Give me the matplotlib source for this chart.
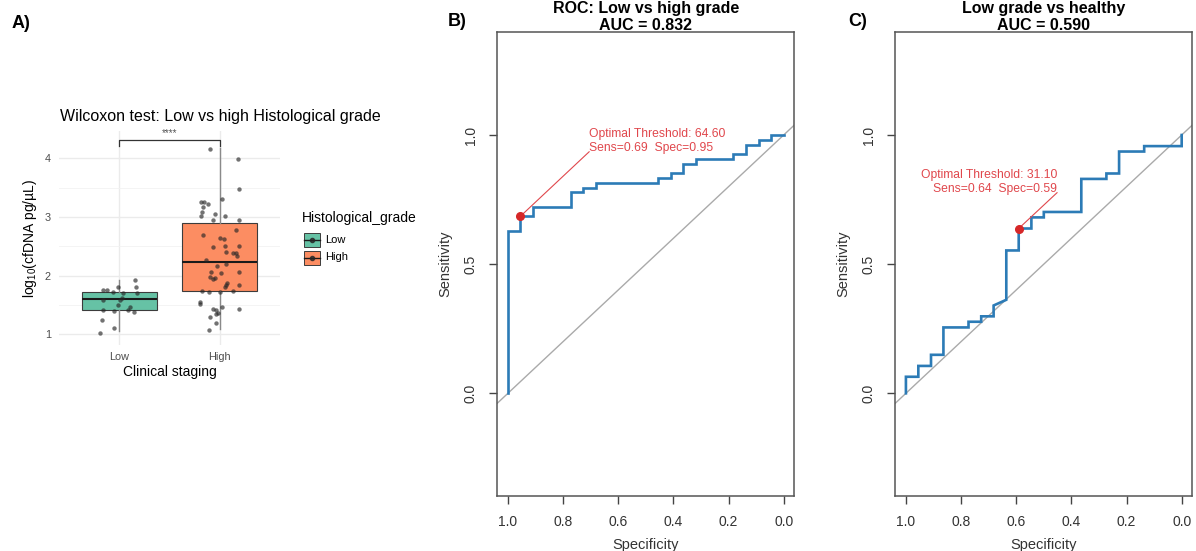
import matplotlib
matplotlib.use("Agg")
import matplotlib.pyplot as plt
from matplotlib.patches import Rectangle
from matplotlib.lines import Line2D

plt.rcParams["font.family"] = ["Liberation Sans", "DejaVu Sans"]
plt.rcParams["mathtext.default"] = "regular"

W, H = 1196, 551

# ---- panel A: cfDNA by histological grade ----
groups = ["Low", "High"]
box_colors = ["#66C2A5", "#FC8D62"]
box_q1 = [1.42, 1.745]
box_med = [1.60, 2.23]
box_q3 = [1.73, 2.905]
box_lo = [1.05, 1.085]
box_hi = [1.93, 4.17]

low_vals = [1.02, 1.24, 1.11, 1.42, 1.40, 1.41, 1.38, 1.47, 1.50, 1.59, 1.59, 1.62,
            1.73, 1.76, 1.76, 1.80, 1.70, 1.80, 1.71, 1.93]
low_jit = [-0.19, -0.177, -0.05, -0.16, -0.05, 0.087, 0.143, 0.10, -0.01, -0.167, 0.01, 0.027,
           -0.063, -0.16, -0.123, -0.01, 0.03, 0.167, 0.173, 0.153]
high_vals = [4.15, 3.99, 3.47, 3.26, 3.25, 3.22, 3.31, 3.17, 3.09, 3.02, 3.05, 3.02, 2.95, 2.95,
             2.70, 2.65, 2.62, 2.78, 2.49, 2.50, 2.50, 2.41, 2.38, 2.38, 2.34, 2.27, 2.20, 2.17,
             2.07, 2.07, 2.04, 1.98, 1.96, 1.94, 1.87, 1.84, 1.81, 1.85, 1.74, 1.73, 1.72, 1.74,
             1.56, 1.51, 1.47, 1.43, 1.43, 1.41, 1.36, 1.34, 1.30, 1.20, 1.07]
high_jit = [-0.093, 0.183, 0.19, -0.183, -0.16, -0.117, 0.017, -0.167, -0.173, -0.19, -0.043, 0.047,
            -0.067, 0.187, -0.17, 0.0, 0.043, 0.157, -0.07, 0.053, 0.19, 0.06, 0.133, 0.157, 0.173,
            -0.14, 0.06, -0.027, -0.09, 0.187, 0.01, -0.1, -0.05, -0.067, 0.073, 0.06, 0.047, 0.187,
            -0.177, -0.11, 0.0, 0.13, -0.193, -0.193, 0.017, -0.067, 0.187, -0.04, -0.017, -0.033,
            -0.1, -0.037, -0.107]
sig_label = "****"
sig_y = 4.31

# ---- panel B / C: ROC curves ----
roc_b_spec = [1.0, 1.0, 0.955, 0.955, 0.909, 0.909, 0.773, 0.773, 0.727, 0.727, 0.682, 0.682,
              0.455, 0.455, 0.409, 0.409, 0.364, 0.364, 0.318, 0.318, 0.182, 0.182, 0.136, 0.136,
              0.091, 0.091, 0.045, 0.045, 0.0]
roc_b_sens = [0.0, 0.630, 0.630, 0.685, 0.685, 0.722, 0.722, 0.778, 0.778, 0.796, 0.796, 0.815,
              0.815, 0.833, 0.833, 0.852, 0.852, 0.889, 0.889, 0.907, 0.907, 0.926, 0.926, 0.963,
              0.963, 0.981, 0.981, 1.0, 1.0]
best_b = (0.955, 0.685)
label_b = "Optimal Threshold: 64.60\nSens=0.69  Spec=0.95"

roc_c_spec = [1.0, 1.0, 0.955, 0.955, 0.909, 0.909, 0.864, 0.864, 0.773, 0.773, 0.727, 0.727,
              0.682, 0.682, 0.636, 0.636, 0.591, 0.591, 0.545, 0.545, 0.5, 0.5, 0.364, 0.364,
              0.273, 0.273, 0.227, 0.227, 0.136, 0.136, 0.0, 0.0]
roc_c_sens = [0.0, 0.064, 0.064, 0.106, 0.106, 0.149, 0.149, 0.255, 0.255, 0.277, 0.277, 0.298,
              0.298, 0.340, 0.362, 0.553, 0.553, 0.638, 0.638, 0.681, 0.681, 0.702, 0.702, 0.830,
              0.830, 0.851, 0.851, 0.936, 0.936, 0.957, 0.957, 1.0]
best_c = (0.591, 0.638)
label_c = "Optimal Threshold: 31.10\nSens=0.64  Spec=0.59"

spec_ticks = [1.0, 0.8, 0.6, 0.4, 0.2, 0.0]
sens_ticks = [0.0, 0.5, 1.0]

RED = "#E0474C"
BLUE = "#2C7BB6"


def fx(px):
    return px / W


def fy(py):
    return 1 - py / H


def roc_panel(fig, left_px, spec, sens, best, label, label_xy, ha, title, auc):
    ax = fig.add_axes([fx(left_px), fy(496), 297 / W, (496 - 32.3) / H])
    ax.axline((1.0, 0.0), (0.0, 1.0), color="#AAAAAA", lw=1.0, zorder=1)
    ax.plot(spec, sens, color=BLUE, lw=1.9, zorder=2, solid_joinstyle="miter")
    ax.plot([best[0], label_xy[0]], [best[1], label_xy[1]], color=RED, lw=0.8, zorder=3)
    ax.plot([best[0]], [best[1]], "o", color="#D62728", ms=5.5, zorder=4)
    ax.text(label_xy[0], label_xy[1] - 0.01, label, color=RED, fontsize=8.7, ha=ha,
            va="bottom", linespacing=1.25)
    ax.set_xlim(1.0385, -0.0385)
    ax.set_ylim(-0.3976, 1.3976)
    ax.set_xticks(spec_ticks)
    ax.set_xticklabels([f"{t:.1f}" for t in spec_ticks])
    ax.set_yticks(sens_ticks)
    ax.set_yticklabels([f"{t:.1f}" for t in sens_ticks], rotation=90, va="center")
    ax.tick_params(length=6, width=1, color="#444444", labelcolor="#333333", labelsize=10, pad=8)
    for sp in ax.spines.values():
        sp.set_color("#555555")
        sp.set_linewidth(1.1)
    ax.set_xlabel("Specificity", fontsize=10.5, color="#333333", labelpad=6)
    ax.set_ylabel("Sensitivity", fontsize=10.5, color="#333333", labelpad=8)
    cx = left_px + 297 / 2
    fig.text(fx(cx), fy(9), title, ha="center", va="center", fontsize=11.5, fontweight="bold")
    fig.text(fx(cx), fy(25), auc, ha="center", va="center", fontsize=11.5, fontweight="bold")
    return ax


def main():
    fig = plt.figure(figsize=(W / 100, H / 100), dpi=100)

    # panel A
    ax = fig.add_axes([fx(59.3), fy(345), 220.7 / W, 214 / H])
    stats = [
        {"q1": box_q1[i], "med": box_med[i], "q3": box_q3[i],
         "whislo": box_lo[i], "whishi": box_hi[i], "fliers": []}
        for i in range(len(groups))
    ]
    bp = ax.bxp(stats, positions=[1, 2], widths=0.75, patch_artist=True, showfliers=False,
                showcaps=False, manage_ticks=False,
                boxprops=dict(edgecolor="#3C3C3C", lw=0.8),
                medianprops=dict(color="#1A1A1A", lw=1.5),
                whiskerprops=dict(color="#8A8A8A", lw=1.0))
    for patch, c in zip(bp["boxes"], box_colors):
        patch.set_facecolor(c)
    ax.scatter([1 + j for j in low_jit], low_vals, s=10, color="#262626", alpha=0.65,
               lw=0, zorder=5)
    ax.scatter([2 + j for j in high_jit], high_vals, s=10, color="#262626", alpha=0.65,
               lw=0, zorder=5)
    ax.plot([1, 1, 2, 2], [sig_y - 0.1, sig_y, sig_y, sig_y - 0.1], color="#333333", lw=0.9,
            clip_on=False)
    ax.text(1.5, sig_y + 0.04, sig_label, ha="center", va="bottom", fontsize=7,
            color="#555555")

    ax.set_xlim(0.4, 2.6)
    ax.set_ylim(0.82, 4.465)
    ax.set_yticks([1, 2, 3, 4])
    ax.set_yticks([1.5, 2.5, 3.5], minor=True)
    ax.set_xticks([1, 2])
    ax.set_xticklabels(groups)
    ax.grid(True, which="major", color="#EBEBEB", lw=1.0)
    ax.grid(True, which="minor", axis="y", color="#F2F2F2", lw=0.6)
    ax.set_axisbelow(True)
    for sp in ax.spines.values():
        sp.set_visible(False)
    ax.tick_params(which="both", length=0, labelcolor="#4D4D4D", labelsize=7.8)
    ax.tick_params(axis="x", pad=5)
    ax.tick_params(axis="y", pad=6)
    ax.set_xlabel("Clinical staging", fontsize=10, labelpad=2)
    ax.set_ylabel("log$_{10}$(cfDNA pg/µL)", fontsize=10, labelpad=4)
    fig.text(fx(60), fy(116), "Wilcoxon test: Low vs high Histological grade",
             ha="left", va="center", fontsize=11.5)

    # legend for panel A
    fig.text(fx(302), fy(218), "Histological_grade", ha="left", va="center", fontsize=10)
    for i, (g, c) in enumerate(zip(groups, box_colors)):
        top = 233 + i * 17.5
        fig.add_artist(Rectangle((fx(303.5), fy(top + 14)), 16 / W, 14 / H,
                                 transform=fig.transFigure, facecolor=c,
                                 edgecolor="#3C3C3C", lw=0.7))
        fig.add_artist(Line2D([fx(303.5), fx(319.5)], [fy(top + 7), fy(top + 7)],
                              transform=fig.transFigure, color="#1A1A1A", lw=1.0))
        fig.add_artist(Line2D([fx(311.5)], [fy(top + 7)], transform=fig.transFigure,
                              marker="o", ms=3, color="#262626", alpha=0.8, lw=0))
        fig.text(fx(325), fy(top + 7), g, ha="left", va="center", fontsize=8)

    # panels B and C
    roc_panel(fig, 497.3, roc_b_spec, roc_b_sens, best_b, label_b, (0.7055, 0.935), "left",
              "ROC: Low vs high grade", "AUC = 0.832")
    roc_panel(fig, 895.3, roc_c_spec, roc_c_sens, best_c, label_c, (0.452, 0.7766), "right",
              "Low grade vs healthy", "AUC = 0.590")

    fig.text(fx(21), fy(23), "A)", ha="center", va="center", fontsize=13, fontweight="bold")
    fig.text(fx(457), fy(22), "B)", ha="center", va="center", fontsize=13, fontweight="bold")
    fig.text(fx(858), fy(22), "C)", ha="center", va="center", fontsize=13, fontweight="bold")

    fig.savefig("out.png", dpi=100, facecolor="white")
    plt.close(fig)


if __name__ == "__main__":
    main()
